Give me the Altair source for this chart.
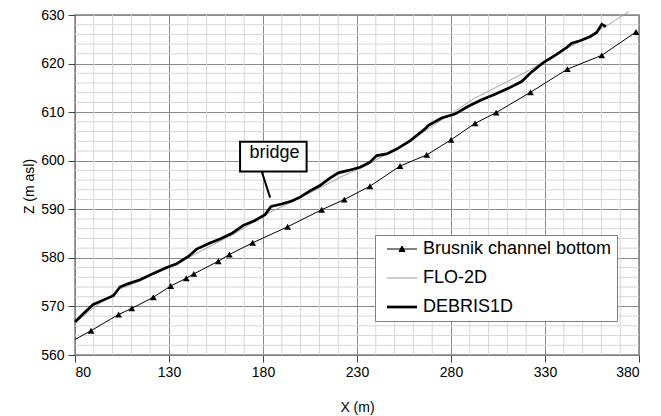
import altair as alt
import pandas as pd

# ---- data ----
series_names = ["Brusnik channel bottom", "FLO-2D", "DEBRIS1D"]
series_colors = ["#000000", "#9a9a9a", "#000000"]
series_widths = [1.0, 0.9, 2.7]

brusnik_x = [80, 88.5, 103.2, 110.2, 121.7, 130.9, 139.2, 143.2, 156.2, 162.1, 174.5, 193.1,
             211.2, 223.2, 236.9, 252.9, 267.1, 280.0, 292.8, 304.0, 322.3, 341.9, 360.2, 378.4]
brusnik_z = [563.2, 565.0, 568.35, 569.6, 571.9, 574.2, 575.8, 576.7, 579.3, 580.7, 583.1, 586.4,
             589.9, 592.0, 594.75, 598.9, 601.2, 604.3, 607.7, 609.9, 614.1, 618.85, 621.7, 626.5]
brusnik_marker = [False] + [True] * 23

flo_x = [80, 88.9, 103.9, 115.5, 140, 165, 183.7, 197, 222.7, 235.1, 260, 292.8, 321.1, 362.4, 374.7]
flo_z = [566.6, 569.4, 573.6, 575.4, 580.0, 585.0, 589.4, 591.8, 596.9, 599.0, 604.6, 612.9, 618.5, 627.7, 630.7]

debris_x = [80, 84.4, 89.7, 95, 100.4, 103.9, 108.4, 114.6, 121.7, 128.8, 134.1, 140.3, 144.7,
            150.9, 157.1, 163.3, 169.5, 175.7, 181.1, 184.3, 189.9, 195.3, 199.7, 205, 210.3,
            215.6, 220.1, 225.4, 231.6, 236.9, 240.5, 245.8, 251.1, 258.2, 266, 268, 275, 282.1,
            289.2, 296.3, 303.4, 310.5, 317.6, 322.4, 329.1, 336.2, 341.5, 344.2, 348.6, 353.9,
            357.5, 360.2, 362.4]
debris_z = [566.8, 568.5, 570.4, 571.3, 572.2, 574.0, 574.7, 575.5, 576.8, 578.0, 578.8, 580.3, 581.8,
            582.9, 583.9, 585.0, 586.7, 587.7, 588.9, 590.6, 591.1, 591.7, 592.5, 593.8, 594.9,
            596.4, 597.5, 598.0, 598.65, 599.7, 601.05, 601.4, 602.4, 604.1, 606.5, 607.3, 608.8, 609.6,
            611.2, 612.55, 613.7, 614.9, 616.3, 618.1, 620.2, 621.9, 623.3, 624.2, 624.7, 625.5,
            626.4, 628.1, 627.6]

x_major = [80, 130, 180, 230, 280, 330, 380]
y_major = [560, 570, 580, 590, 600, 610, 620, 630]
x_minor = [v for v in range(80, 381, 10) if v not in x_major]
y_minor = [v for v in range(560, 631, 2) if v % 10 != 0]

# bridge annotation (data units)
box_x = [167.8]
box_x2 = [203.2]
box_z = [597.8]
box_z2 = [603.9]
leader_x = [179.3]
leader_x2 = [183.8]
leader_z = [597.8]
leader_z2 = [592.4]
label_x = [186.1]
label_z = [600.6]
label_text = ["bridge"]

# ---- tables ----
frames = []
for name, xs, zs, w in zip(series_names, [brusnik_x, flo_x, debris_x],
                           [brusnik_z, flo_z, debris_z], series_widths):
    frames.append(pd.DataFrame({"x": xs, "z": zs, "series": name, "sw": w}))
lines_df = pd.concat(frames, ignore_index=True)
marker_df = pd.DataFrame({"x": brusnik_x, "z": brusnik_z, "m": brusnik_marker})
marker_df = marker_df[marker_df["m"]]

FONT = "Liberation Sans"
xscale = alt.Scale(domain=[80, 380], nice=False, zero=False)
yscale = alt.Scale(domain=[560, 630], nice=False, zero=False)
xaxis = alt.Axis(values=x_major, title="X (m)", titlePadding=21, labelPadding=3, format="d")
yaxis = alt.Axis(values=y_major, title="Z (m asl)", titleX=-39, titleY=171, labelPadding=4, format="d")

def X(f="x"):
    return alt.X(f, type="quantitative", scale=xscale, axis=xaxis)

def Y(f="z"):
    return alt.Y(f, type="quantitative", scale=yscale, axis=yaxis)

color_scale = alt.Scale(domain=series_names, range=series_colors)

TRI_PATH = "M-1,0H1M-0.2,0.17L0,-0.2L0.2,0.17Z"
legend = alt.Legend(
    orient="none", legendX=300, legendY=220, labelFontSize=18, labelFont=FONT,
    labelColor="black", labelLimit=400, symbolSize=900, strokeColor="#808080",
    fillColor="white", padding=5, symbolOffset=13, labelOffset=12, rowPadding=11,
    symbolFillColor="black",
    symbolType={"expr": "datum.value === 'Brusnik channel bottom' ? '" + TRI_PATH + "' : 'M-1,0H1'"},
    symbolStrokeWidth={"expr": "datum.value === 'DEBRIS1D' ? 2.7 : 1"},
)

grid_x = alt.Chart(pd.DataFrame({"x": x_minor})).mark_rule(color="#d6d6d6", strokeWidth=1).encode(x=X())
grid_y = alt.Chart(pd.DataFrame({"z": y_minor})).mark_rule(color="#d6d6d6", strokeWidth=1).encode(y=Y())

lines = alt.Chart(lines_df).mark_line().encode(
    x=X(), y=Y(),
    color=alt.Color("series:N", scale=color_scale, legend=legend, title=None),
    strokeWidth=alt.StrokeWidth("sw:Q", scale=None),
    order=alt.Order("x:Q"),
)

markers = alt.Chart(marker_df).mark_point(shape="triangle-up", filled=True, opacity=1,
                                          size=46, color="black").encode(x=X(), y=Y())

ann_box = alt.Chart(pd.DataFrame({"x": box_x, "x2": box_x2, "z": box_z, "z2": box_z2})).mark_rect(
    fill="white", stroke="black", strokeWidth=2).encode(x=X(), x2="x2", y=Y(), y2="z2")
ann_leader = alt.Chart(pd.DataFrame({"x": leader_x, "x2": leader_x2, "z": leader_z, "z2": leader_z2})).mark_rule(
    color="black", strokeWidth=2).encode(x=X(), x2="x2", y=Y(), y2="z2")
ann_text = alt.Chart(pd.DataFrame({"x": label_x, "z": label_z, "t": label_text})).mark_text(
    font=FONT, fontSize=18, baseline="alphabetic", align="center", color="black").encode(
    x=X(), y=Y(), text="t:N")

chart = alt.layer(grid_x, grid_y, lines, markers, ann_leader, ann_box, ann_text).properties(
    width=564, height=340,
    autosize=alt.AutoSizeParams(type="none"),
    padding={"left": 67, "top": 7, "right": 14, "bottom": 61},
).configure_axis(
    labelFont=FONT, labelFontSize=14, labelColor="black",
    titleFont=FONT, titleFontSize=14, titleFontWeight="normal", titleColor="black",
    gridColor="#8a8a8a", gridWidth=1, domainColor="#808080", tickColor="#404040", tickSize=7,
).configure_view(stroke="#808080", strokeWidth=1.5)

chart.save("out.html", embed_options={"renderer": "svg", "actions": False})
